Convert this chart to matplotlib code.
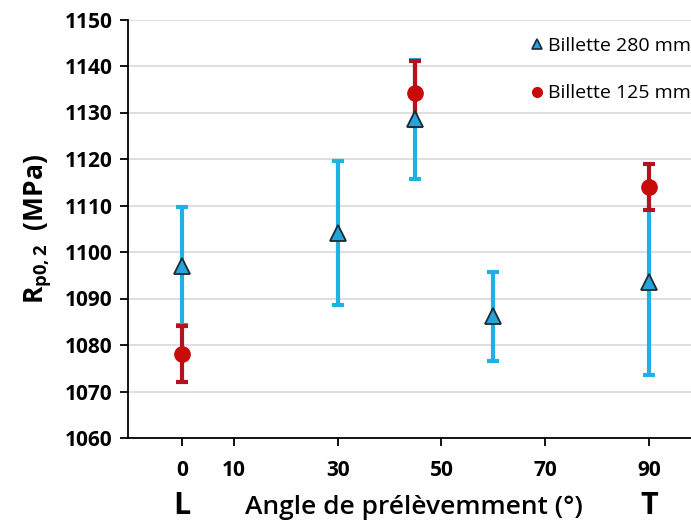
import matplotlib.pyplot as plt
from matplotlib.lines import Line2D
import numpy as np

plt.rcParams['font.family'] = ['Open Sans', 'DejaVu Sans']

# Billette 280 mm
angle_280 = [0, 30, 45, 60, 90]
rp_280 = [1097, 1104, 1128.5, 1086.2, 1093.5]
err_280 = [12.6, 15.5, 12.8, 9.6, 20]

# Billette 125 mm
angle_125 = [0, 45, 90]
rp_125 = [1078, 1134.1, 1114]
err_125 = [6, 7, 5]

xticks = [0, 10, 30, 50, 70, 90]
yticks = np.arange(1060, 1151, 10)

blue_bar = '#1fb0e4'
blue_face = '#27a3dc'
red_bar = '#b3121f'
red_face = '#c80a0a'

fig = plt.figure(figsize=(6.91, 5.23), dpi=100)
ax = fig.add_axes([128 / 691, 1 - 438 / 523, 1 - 128 / 691, (438 - 19.5) / 523])

# error bars first, markers on top
ax.errorbar(angle_280, rp_280, yerr=err_280, fmt='none', ecolor=blue_bar,
            elinewidth=3, capsize=4, capthick=3, zorder=2)
ax.errorbar(angle_125, rp_125, yerr=err_125, fmt='none', ecolor=red_bar,
            elinewidth=3, capsize=4, capthick=3, zorder=3)
ax.plot(angle_280, rp_280, '^', markersize=11, markerfacecolor=blue_face,
        markeredgecolor='#1a2a33', markeredgewidth=1.3, zorder=4)
ax.plot(angle_125, rp_125, 'o', markersize=11, markerfacecolor=red_face,
        markeredgecolor=red_face, zorder=5)

ax.set_xlim(-10.4, 98.1)
ax.set_ylim(1060, 1150)
ax.set_xticks(xticks)
ax.set_yticks(yticks)
ax.yaxis.grid(True, color='#d9d9d9', linewidth=1.2)
ax.set_axisbelow(True)
for s in ['top', 'right']:
    ax.spines[s].set_visible(False)
ax.spines['left'].set_linewidth(1.3)
ax.spines['bottom'].set_linewidth(1.3)
ax.tick_params(axis='both', direction='out', length=6, width=1.3, labelsize=15)
ax.tick_params(axis='x', pad=10)
ax.tick_params(axis='y', pad=5)
for lab in ax.get_xticklabels() + ax.get_yticklabels():
    lab.set_fontweight('bold')

ax.set_ylabel(r'R$_{\mathregular{p0,2}}$  (MPa)', fontsize=19, fontweight='bold', labelpad=8)

fig.text(182 / 691, 1 - 506 / 523, 'L', fontsize=22, fontweight='bold', ha='center', va='center')
fig.text(649 / 691, 1 - 506 / 523, 'T', fontsize=22, fontweight='bold', ha='center', va='center')
fig.text(414 / 691, 1 - 508 / 523, 'Angle de prélèvemment (°)', fontsize=19, fontweight='semibold',
         ha='center', va='center')

handles = [
    Line2D([], [], linestyle='none', marker='^', markersize=7, markerfacecolor=blue_face,
           markeredgecolor='#1a2a33', markeredgewidth=1.2),
    Line2D([], [], linestyle='none', marker='o', markersize=7, markerfacecolor=red_face,
           markeredgecolor=red_face),
]
ax.legend(handles, ['Billette 280 mm', 'Billette 125 mm'], loc='upper right',
          bbox_to_anchor=(1.025, 0.99), frameon=False, fontsize=14,
          handletextpad=0.1, labelspacing=1.5, handlelength=1.0, borderaxespad=0.3)

fig.savefig('out.png', dpi=100)
